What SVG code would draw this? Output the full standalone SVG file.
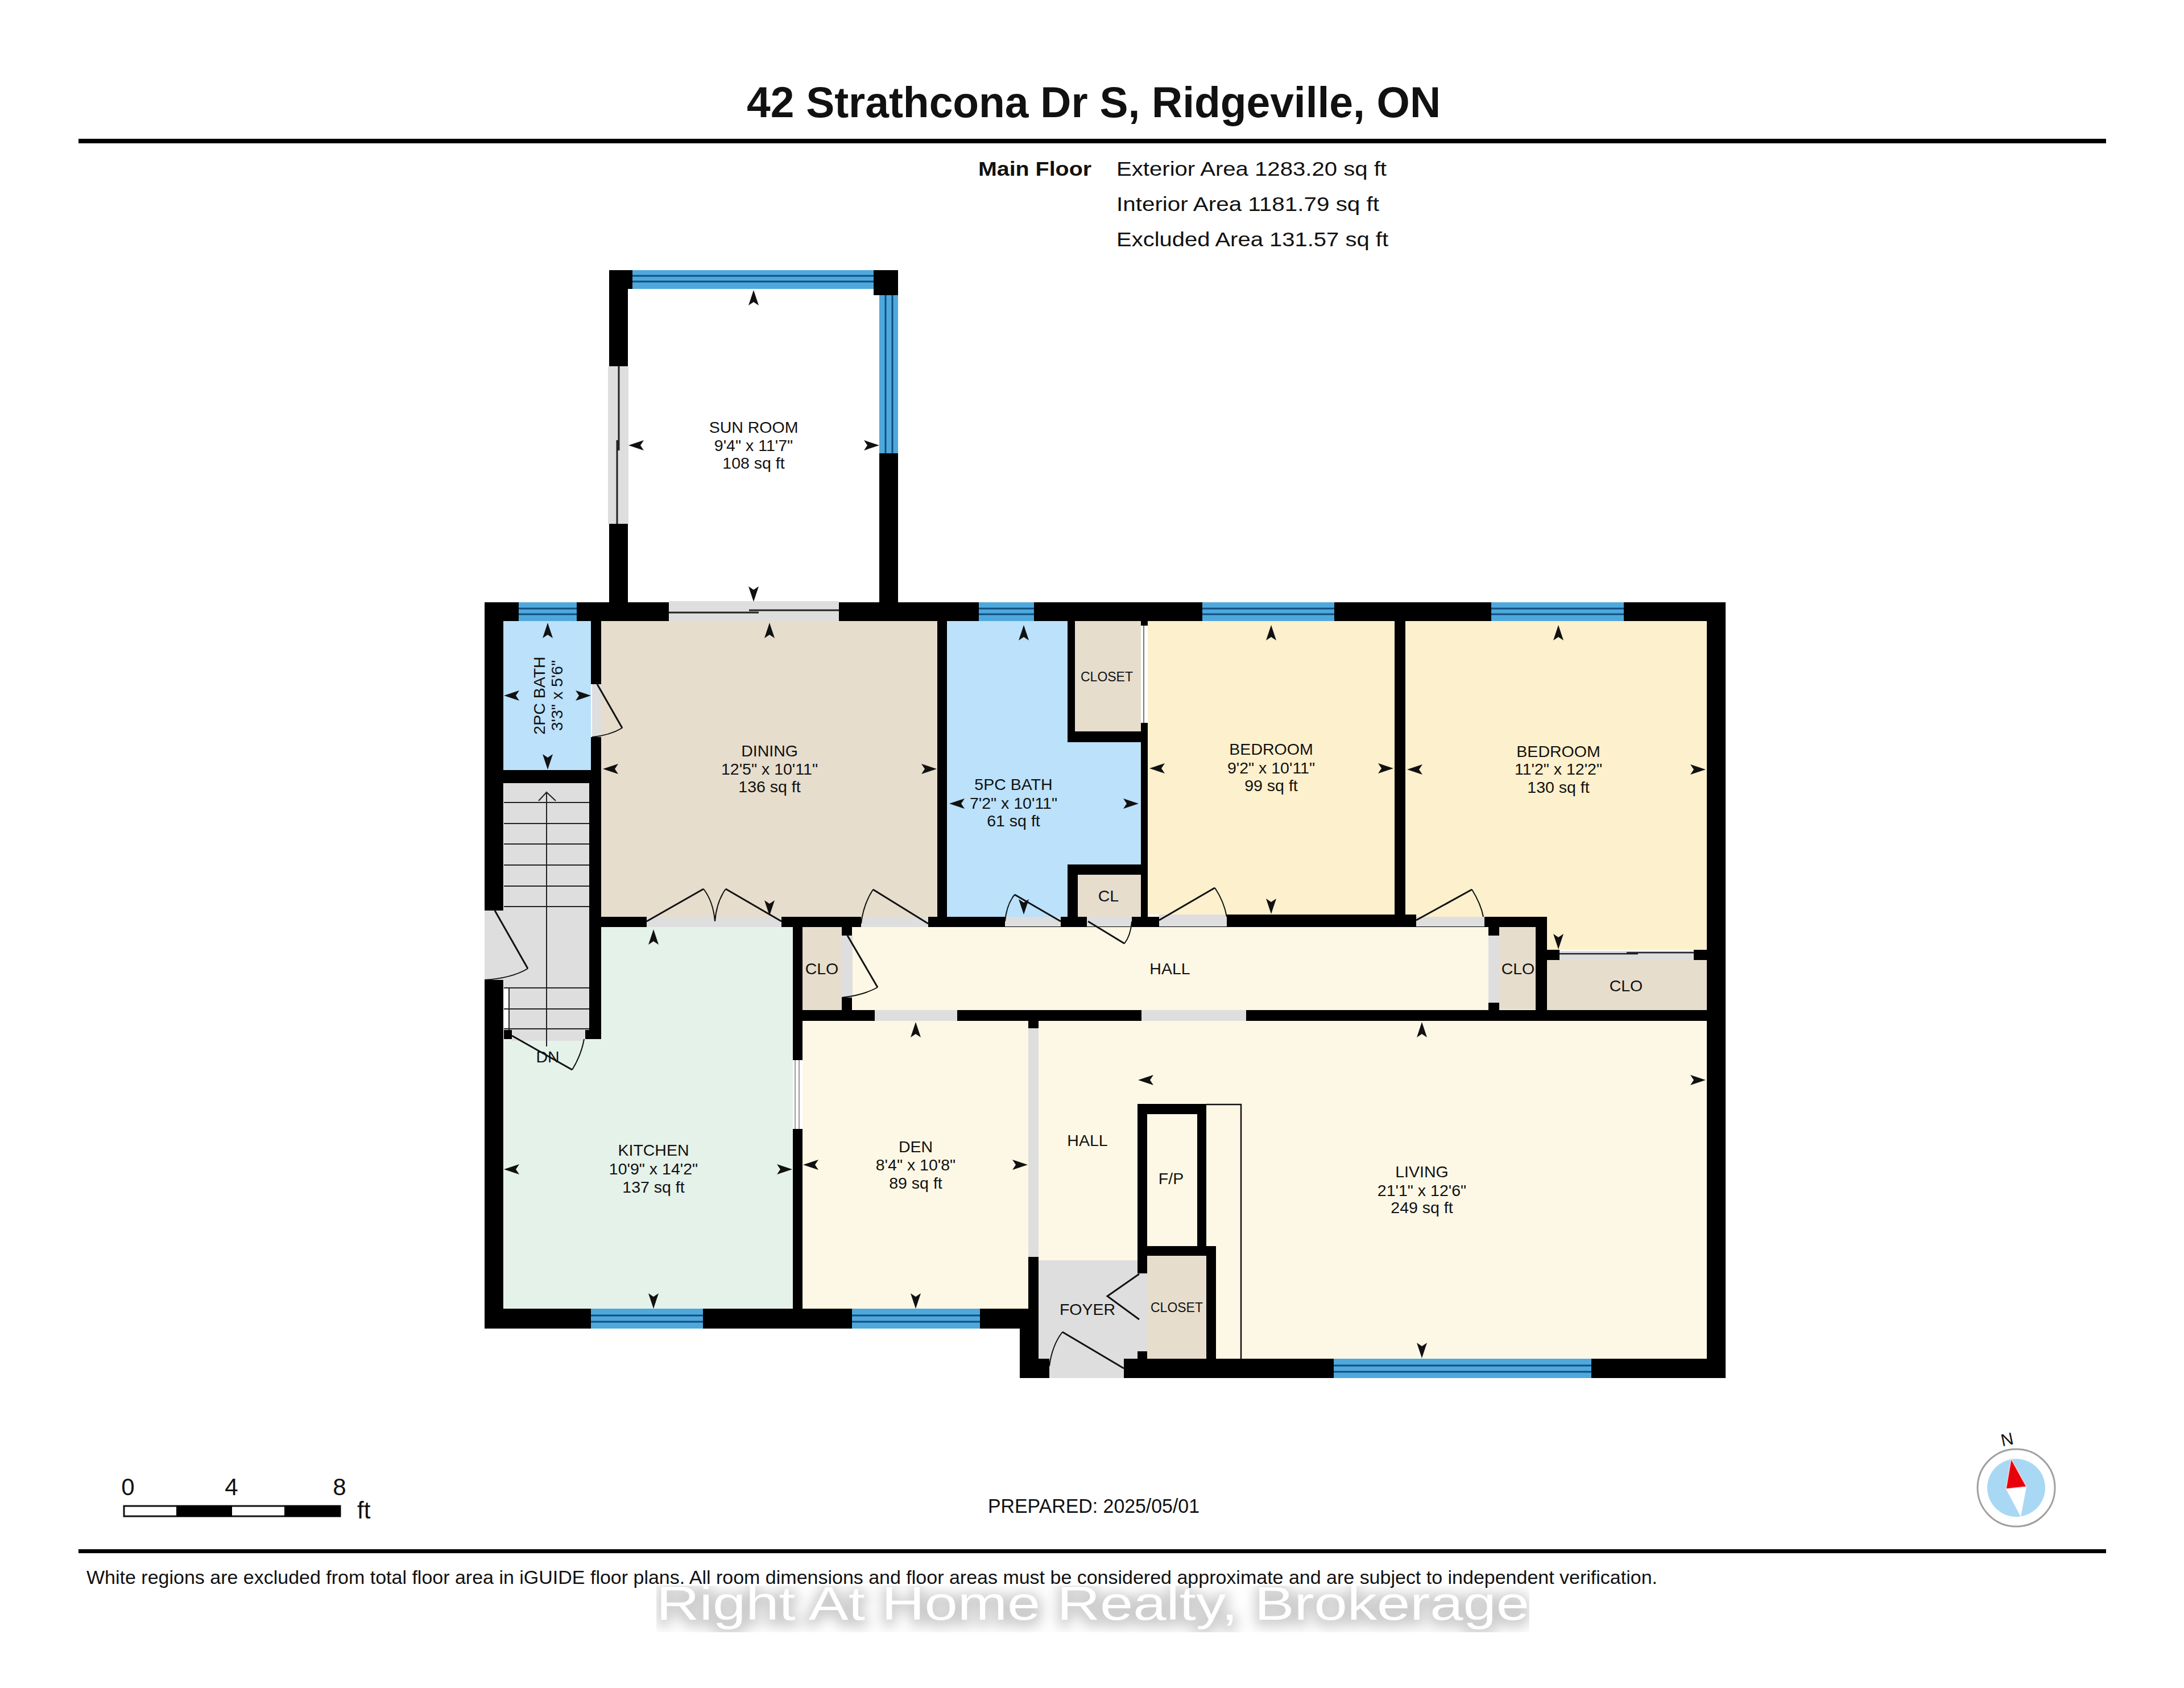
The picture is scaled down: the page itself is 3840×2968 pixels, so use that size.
<svg xmlns="http://www.w3.org/2000/svg" xmlns:xlink="http://www.w3.org/1999/xlink" width="3840" height="2968" viewBox="0 0 3840 2968">
<style>
text{font-family:"Liberation Sans",Arial,sans-serif;fill:#111}
.c{text-anchor:middle;font-size:28.5px}
.s{text-anchor:middle;font-size:23px}
.i{font-size:35px}
.k{fill:#000}
.g{fill:#dedede}
.tan{fill:#e6ddcd}
.blue{fill:#bbe1fb}
.bed{fill:#fdf0cd}
.cream{fill:#fdf8e6}
.kit{fill:#e5f2ea}
.win{fill:#4fa8dc}
.wl{stroke:#0f4f80;stroke-width:3;fill:none}
.dl{stroke:#111;stroke-width:3;fill:none}
.da{stroke:#111;stroke-width:2;fill:none}
.sl{stroke:#222;stroke-width:2;fill:none}
</style>
<defs>
<path id="a" d="M0 0L9 27L0 21L-9 27Z" fill="#111"/>
<filter id="wm" filterUnits="userSpaceOnUse" x="1154" y="2783" width="1535" height="87" color-interpolation-filters="sRGB">
<feMorphology in="SourceAlpha" operator="dilate" radius="7"/>
<feGaussianBlur stdDeviation="11"/>
<feOffset dy="5" result="b"/>
<feFlood flood-color="#c4c4c4" flood-opacity="0.85"/>
<feComposite in2="b" operator="in" result="sh"/>
<feMerge><feMergeNode in="sh"/><feMergeNode in="SourceGraphic"/></feMerge>
</filter>
</defs>
<rect width="3840" height="2968" fill="#fff"/>

<g id="header">
<text x="1313" y="206" font-size="76" font-weight="700" textLength="1220" lengthAdjust="spacingAndGlyphs">42 Strathcona Dr S, Ridgeville, ON</text>
<rect class="k" x="138" y="244" width="3565" height="8"/>
<text x="1720" y="309" class="i" font-weight="700" textLength="199" lengthAdjust="spacingAndGlyphs">Main Floor</text>
<text x="1963" y="309" class="i" textLength="475" lengthAdjust="spacingAndGlyphs">Exterior Area 1283.20 sq ft</text>
<text x="1963" y="371" class="i" textLength="462" lengthAdjust="spacingAndGlyphs">Interior Area 1181.79 sq ft</text>
<text x="1963" y="433" class="i" textLength="478" lengthAdjust="spacingAndGlyphs">Excluded Area 131.57 sq ft</text>
</g>

<g id="room-fills">
<rect class="blue" x="885" y="1092" width="154" height="262"/>
<rect class="g" x="886" y="1377" width="150" height="434"/>
<rect x="886" y="1736" width="9" height="75" fill="#fff"/>
<rect class="tan" x="1057" y="1092" width="591" height="520"/>
<path class="kit" d="M886 1827H1057V1630H1394V2301H886Z"/>
<rect class="tan" x="1411" y="1630" width="70" height="148"/>
<rect class="cream" x="1498" y="1629" width="1119" height="149"/>
<rect class="blue" x="1665" y="1092" width="341" height="520"/>
<rect class="tan" x="1890" y="1092" width="116" height="194"/>
<rect class="tan" x="1895" y="1538" width="111" height="74"/>
<rect class="bed" x="2018" y="1092" width="434" height="516"/>
<path class="bed" d="M2471 1092H3001V1670H2720V1612H2471Z"/>
<rect class="tan" x="2636" y="1629" width="64" height="146"/>
<rect class="tan" x="2720" y="1688" width="281" height="88"/>
<rect class="cream" x="1411" y="1795" width="397" height="506"/>
<rect class="cream" x="1826" y="1795" width="1175" height="594"/>
<rect class="g" x="1826" y="2216" width="174" height="173"/>
<rect class="tan" x="2017" y="2208" width="104" height="181"/>
</g>

<g id="walls">
<rect class="k" x="852" y="1059" width="2182" height="33"/>
<rect class="k" x="852" y="1059" width="33" height="542"/>
<rect class="k" x="852" y="1723" width="33" height="613"/>
<rect class="k" x="852" y="2301" width="974" height="35"/>
<rect class="k" x="1808" y="2210" width="18" height="100"/>
<rect class="k" x="1793" y="2303" width="33" height="120"/>
<rect class="k" x="1793" y="2389" width="1241" height="34"/>
<rect class="k" x="3001" y="1059" width="33" height="1364"/>
<rect class="k" x="1071" y="475" width="33" height="169"/>
<rect class="k" x="1071" y="921" width="33" height="140"/>
<rect class="k" x="1071" y="475" width="41" height="33"/>
<rect class="k" x="1536" y="475" width="43" height="44"/>
<rect class="k" x="1546" y="797" width="33" height="264"/>
<rect class="k" x="1039" y="1092" width="18" height="111"/>
<rect class="k" x="1039" y="1296" width="18" height="60"/>
<rect class="k" x="1036" y="1354" width="21" height="473"/>
<rect class="k" x="885" y="1354" width="154" height="23"/>
<rect class="k" x="886" y="1811" width="14" height="16"/>
<rect class="k" x="1029" y="1811" width="28" height="16"/>
<rect class="k" x="1057" y="1612" width="1663" height="18"/>
<rect class="k" x="2157" y="1608" width="333" height="21"/>
<rect class="k" x="1648" y="1092" width="17" height="520"/>
<rect class="k" x="1877" y="1092" width="13" height="213"/>
<rect class="k" x="1877" y="1286" width="129" height="19"/>
<rect class="k" x="2006" y="1092" width="12" height="8"/>
<rect class="k" x="2006" y="1271" width="12" height="358"/>
<rect class="k" x="1877" y="1520" width="18" height="92"/>
<rect class="k" x="1877" y="1520" width="129" height="18"/>
<rect class="k" x="2452" y="1092" width="19" height="520"/>
<rect class="k" x="2700" y="1612" width="20" height="164"/>
<rect class="k" x="1394" y="1776" width="1607" height="19"/>
<rect class="k" x="1394" y="1630" width="17" height="234"/>
<rect class="k" x="1394" y="1985" width="17" height="316"/>
<rect class="k" x="1480" y="1630" width="18" height="15"/>
<rect class="k" x="1480" y="1754" width="18" height="24"/>
<rect class="k" x="1808" y="1795" width="18" height="13"/>
<rect class="k" x="2617" y="1629" width="19" height="16"/>
<rect class="k" x="2617" y="1763" width="19" height="15"/>
<rect class="k" x="2720" y="1670" width="22" height="18"/>
<rect class="k" x="2978" y="1670" width="23" height="18"/>
<path class="k" fill-rule="evenodd" d="M2000 1941H2121V2191H2138V2389H2121V2208H2017V2239H2000ZM2017 1959V2191H2105V1959Z"/>
<rect class="k" x="2000" y="2376" width="17" height="13"/>
<path d="M2121 1942H2182V2389" fill="none" stroke="#111" stroke-width="2.5"/>
</g>

<g id="openings">
<rect class="g" x="1069" y="644" width="36" height="277"/>
<path class="sl" style="stroke-width:3" d="M1088 644V792M1085 774V921"/>
<rect class="g" x="1176" y="1057" width="299" height="35"/>
<path class="sl" style="stroke-width:3" d="M1176 1077H1334M1317 1073H1475"/>
<rect class="g" x="1041" y="1203" width="16" height="93"/>
<rect class="g" x="852" y="1601" width="34" height="122"/>
<rect class="g" x="1137" y="1612" width="237" height="18"/>
<rect class="g" x="1514" y="1612" width="118" height="18"/>
<rect class="g" x="1767" y="1612" width="98" height="17"/>
<rect class="g" x="1911" y="1612" width="79" height="17"/>
<rect class="g" x="2038" y="1608" width="119" height="21"/>
<rect class="g" x="2490" y="1612" width="120" height="17"/>
<rect class="g" x="900" y="1811" width="129" height="19"/>
<rect class="g" x="1480" y="1645" width="19" height="109"/>
<rect class="g" x="2617" y="1645" width="19" height="118"/>
<rect x="2006" y="1100" width="12" height="171" fill="#fff"/>
<path d="M2011 1100V1271" stroke="#777" stroke-width="2"/>
<rect class="g" x="2742" y="1672" width="236" height="16"/>
<path class="sl" style="stroke-width:2.5" d="M2742 1677H2880M2860 1675H2978"/>
<rect x="1394" y="1864" width="17" height="121" fill="#fff"/>
<path d="M1398 1864V1985M1405 1864V1985" stroke="#9a9a9a" stroke-width="2"/>
<rect class="g" x="1538" y="1776" width="145" height="19"/>
<rect class="g" x="2007" y="1776" width="184" height="19"/>
<rect class="g" x="1808" y="1808" width="18" height="402"/>
<rect class="g" x="2000" y="2239" width="17" height="137"/>
<rect class="g" x="1845" y="2389" width="131" height="34"/>
</g>

<g id="windows">
<g><rect class="win" x="1112" y="475" width="424" height="33"/><path class="wl" d="M1112 485H1536M1112 495H1536"/></g>
<g><rect class="win" x="1546" y="519" width="33" height="278"/><path class="wl" d="M1557 519V797M1569 519V797"/></g>
<g><rect class="win" x="912" y="1059" width="102" height="33"/><path class="wl" d="M912 1070H1014M912 1080H1014"/></g>
<g><rect class="win" x="1721" y="1059" width="97" height="33"/><path class="wl" d="M1721 1070H1818M1721 1080H1818"/></g>
<g><rect class="win" x="2114" y="1059" width="232" height="33"/><path class="wl" d="M2114 1070H2346M2114 1080H2346"/></g>
<g><rect class="win" x="2622" y="1059" width="233" height="33"/><path class="wl" d="M2622 1070H2855M2622 1080H2855"/></g>
<g><rect class="win" x="1039" y="2301" width="197" height="35"/><path class="wl" d="M1039 2313H1236M1039 2324H1236"/></g>
<g><rect class="win" x="1498" y="2301" width="225" height="35"/><path class="wl" d="M1498 2313H1723M1498 2324H1723"/></g>
<g><rect class="win" x="2345" y="2389" width="453" height="34"/><path class="wl" d="M2345 2401H2798M2345 2412H2798"/></g>
</g>

<g id="stairs">
<path class="sl" d="M886 1411H1036M886 1448H1036M886 1484H1036M886 1521H1036M886 1558H1036M886 1594H1036M886 1737H1036M886 1774H1036M886 1809H1036M895 1737V1811"/>
<path class="sl" d="M961 1840V1393M947 1408L961 1393L977 1408"/>
</g>

<g id="doors">
<path class="dl" d="M1050 1203L1094 1280"/><path class="da" d="M1094 1280Q1072 1293 1041 1296"/>
<path class="dl" d="M870 1601L928 1703"/><path class="da" d="M928 1703Q900 1720 852 1723"/>
<path class="dl" d="M1137 1620L1237 1563M1374 1620L1276 1563"/><path class="da" d="M1237 1563Q1254 1585 1257 1620Q1260 1585 1276 1563"/>
<path class="dl" d="M1632 1624L1535 1564"/><path class="da" d="M1535 1564Q1518 1590 1514 1624"/>
<path class="dl" d="M1865 1620L1784 1573"/><path class="da" d="M1784 1573Q1770 1590 1767 1620"/>
<path class="dl" d="M1913 1620L1977 1659"/><path class="da" d="M1977 1659Q1988 1645 1990 1620"/>
<path class="dl" d="M2038 1618L2136 1561"/><path class="da" d="M2136 1561Q2152 1585 2157 1612"/>
<path class="dl" d="M2490 1618L2588 1564"/><path class="da" d="M2588 1564Q2604 1590 2608 1612"/>
<path class="dl" d="M1490 1645L1543 1736"/><path class="da" d="M1543 1736Q1518 1750 1480 1754"/>
<path class="dl" d="M900 1821L1006 1881"/><path class="da" d="M1006 1881Q1022 1855 1027 1827"/>
<path class="dl" d="M2003 2240L1947 2279L2003 2320"/>
<path class="dl" d="M1976 2406L1868 2342"/><path class="da" d="M1868 2342Q1850 2365 1845 2402"/>
</g>

<g id="dimension-arrows">
<use href="#a" transform="translate(1325 510)"/><use href="#a" transform="translate(1325 1058) rotate(180)"/><use href="#a" transform="translate(1105 783) rotate(270)"/><use href="#a" transform="translate(1546 783) rotate(90)"/>
<use href="#a" transform="translate(963 1095)"/><use href="#a" transform="translate(963 1353) rotate(180)"/><use href="#a" transform="translate(886 1223) rotate(270)"/><use href="#a" transform="translate(1039 1223) rotate(90)"/>
<use href="#a" transform="translate(1353 1095)"/><use href="#a" transform="translate(1353 1610) rotate(180)"/><use href="#a" transform="translate(1060 1352) rotate(270)"/><use href="#a" transform="translate(1647 1352) rotate(90)"/>
<use href="#a" transform="translate(1149 1634)"/><use href="#a" transform="translate(1149 2301) rotate(180)"/><use href="#a" transform="translate(886 2056) rotate(270)"/><use href="#a" transform="translate(1393 2056) rotate(90)"/>
<use href="#a" transform="translate(1610 1797)"/><use href="#a" transform="translate(1610 2301) rotate(180)"/><use href="#a" transform="translate(1412 2048) rotate(270)"/><use href="#a" transform="translate(1807 2048) rotate(90)"/>
<use href="#a" transform="translate(1800 1099)"/><use href="#a" transform="translate(1800 1608) rotate(180)"/><use href="#a" transform="translate(1669 1413) rotate(270)"/><use href="#a" transform="translate(2002 1413) rotate(90)"/>
<use href="#a" transform="translate(2235 1099)"/><use href="#a" transform="translate(2235 1607) rotate(180)"/><use href="#a" transform="translate(2021 1351) rotate(270)"/><use href="#a" transform="translate(2450 1351) rotate(90)"/>
<use href="#a" transform="translate(2740 1099)"/><use href="#a" transform="translate(2740 1669) rotate(180)"/><use href="#a" transform="translate(2474 1353) rotate(270)"/><use href="#a" transform="translate(2999 1353) rotate(90)"/>
<use href="#a" transform="translate(2500 1797)"/><use href="#a" transform="translate(2500 2388) rotate(180)"/><use href="#a" transform="translate(2001 1899) rotate(270)"/><use href="#a" transform="translate(2999 1899) rotate(90)"/>
</g>

<g id="labels">
<g id="sun-room"><text class="c" x="1325" y="761">SUN ROOM</text><text class="c" x="1325" y="793">9'4" x 11'7"</text><text class="c" x="1325" y="824">108 sq ft</text></g>
<g id="bath-2pc"><text class="c" transform="translate(958 1223) rotate(-90)">2PC BATH</text><text class="c" transform="translate(989 1223) rotate(-90)">3'3" x 5'6"</text></g>
<g id="dining"><text class="c" x="1353" y="1330">DINING</text><text class="c" x="1353" y="1362">12'5" x 10'11"</text><text class="c" x="1353" y="1393">136 sq ft</text></g>
<g id="bath-5pc"><text class="c" x="1782" y="1389">5PC BATH</text><text class="c" x="1782" y="1422">7'2" x 10'11"</text><text class="c" x="1782" y="1453">61 sq ft</text></g>
<g id="closet-1"><text class="s" x="1946" y="1198">CLOSET</text></g>
<g id="cl"><text class="c" x="1949" y="1585">CL</text></g>
<g id="bedroom-1"><text class="c" x="2235" y="1327">BEDROOM</text><text class="c" x="2235" y="1360">9'2" x 10'11"</text><text class="c" x="2235" y="1391">99 sq ft</text></g>
<g id="bedroom-2"><text class="c" x="2740" y="1331">BEDROOM</text><text class="c" x="2740" y="1362">11'2" x 12'2"</text><text class="c" x="2740" y="1394">130 sq ft</text></g>
<g id="clo-1"><text class="c" x="1445" y="1713">CLO</text></g>
<g id="hall-1"><text class="c" x="2057" y="1713">HALL</text></g>
<g id="clo-2"><text class="c" x="2669" y="1713">CLO</text></g>
<g id="clo-3"><text class="c" x="2859" y="1743">CLO</text></g>
<g id="dn"><text class="c" x="963" y="1868">DN</text></g>
<g id="kitchen"><text class="c" x="1149" y="2032">KITCHEN</text><text class="c" x="1149" y="2065">10'9" x 14'2"</text><text class="c" x="1149" y="2097">137 sq ft</text></g>
<g id="den"><text class="c" x="1610" y="2026">DEN</text><text class="c" x="1610" y="2058">8'4" x 10'8"</text><text class="c" x="1610" y="2090">89 sq ft</text></g>
<g id="hall-2"><text class="c" x="1912" y="2015">HALL</text></g>
<g id="fp"><text class="c" x="2059" y="2082">F/P</text></g>
<g id="living"><text class="c" x="2500" y="2070">LIVING</text><text class="c" x="2500" y="2103">21'1" x 12'6"</text><text class="c" x="2500" y="2133">249 sq ft</text></g>
<g id="foyer"><text class="c" x="1912" y="2312">FOYER</text></g>
<g id="closet-2"><text class="s" x="2069" y="2307">CLOSET</text></g>
</g>

<g id="scale">
<text x="225" y="2629" font-size="42" text-anchor="middle">0</text>
<text x="407" y="2629" font-size="42" text-anchor="middle">4</text>
<text x="597" y="2629" font-size="42" text-anchor="middle">8</text>
<rect x="218" y="2648" width="380" height="18" fill="#fff" stroke="#111" stroke-width="3"/>
<rect class="k" x="310" y="2647" width="98" height="20"/>
<rect class="k" x="500" y="2647" width="99" height="20"/>
<text x="628" y="2670" font-size="42">ft</text>
</g>

<g id="compass">
<text font-size="30" text-anchor="middle" transform="translate(3531 2541) rotate(-12)">N</text>
<circle cx="3545" cy="2616" r="68" fill="#fff" stroke="#a0a0a0" stroke-width="3"/>
<circle cx="3545" cy="2616" r="51" fill="#a9d8f5"/>
<path d="M3527 2618L3563 2614L3553 2667Z" fill="#fff"/>
<path d="M3536 2565L3527 2618L3563 2614Z" fill="#e8000b" stroke="#ffd0d4" stroke-width="1.5"/>
</g>

<g id="footer">
<text x="1154" y="2848" font-size="84" filter="url(#wm)" textLength="1535" lengthAdjust="spacingAndGlyphs" style="fill:#fff">Right At Home Realty, Brokerage</text>
<text x="1737" y="2660" font-size="35" textLength="372" lengthAdjust="spacingAndGlyphs">PREPARED: 2025/05/01</text>
<rect class="k" x="138" y="2724" width="3565" height="7"/>
<text x="152" y="2785" font-size="33" textLength="2762" lengthAdjust="spacingAndGlyphs">White regions are excluded from total floor area in iGUIDE floor plans. All room dimensions and floor areas must be considered approximate and are subject to independent verification.</text>
</g>
</svg>
